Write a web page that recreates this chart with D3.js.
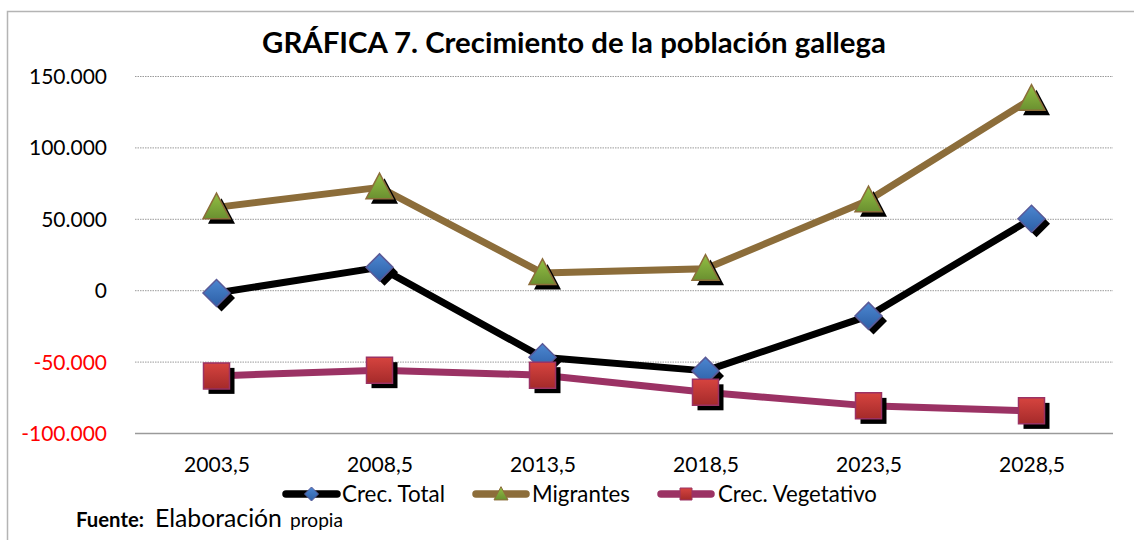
<!DOCTYPE html>
<html>
<head>
<meta charset="utf-8">
<script src="https://cdn.jsdelivr.net/npm/d3@7"></script>
<style>
  html, body { margin: 0; padding: 0; background: #fff; }
  svg { display: block; font-family: Lato, "Open Sans", sans-serif; }
</style>
</head>
<body>
<svg id="chart" width="1134" height="540"></svg>
<script>
const categories = ["2003,5", "2008,5", "2013,5", "2018,5", "2023,5", "2028,5"];
const crecTotal = [-2000, 16000, -47000, -56500, -18000, 50000];
const migrantes = [58000, 72000, 12000, 15000, 63000, 134000];
const crecVegetativo = [-60000, -56000, -59500, -71500, -81000, -84500];
const yTicks = [-100000, -50000, 0, 50000, 100000, 150000];
const seriesNames = ["Crec. Total", "Migrantes", "Crec. Vegetativo"];
const titleText = "GRÁFICA 7. Crecimiento de la población gallega";

const svg = d3.select("#chart");
const W = 1134, H = 540;
const plot = { left: 135, right: 1113, top: 76, bottom: 433 };

const loc = d3.formatLocale({ decimal: ",", thousands: ".", grouping: [3], currency: ["", ""], minus: "-" });
const fmt = loc.format(",.0f");

const x = d3.scalePoint().domain(categories).range([plot.left, plot.right]).padding(0.5);
const y = d3.scaleLinear().domain([-100000, 150000]).range([plot.bottom, plot.top]);

const defs = svg.append("defs");
function grad(id, c1, c2) {
  const g = defs.append("linearGradient").attr("id", id).attr("x1", 0).attr("y1", 0).attr("x2", 0).attr("y2", 1);
  g.append("stop").attr("offset", "0%").attr("stop-color", c1);
  g.append("stop").attr("offset", "100%").attr("stop-color", c2);
}
grad("gBlue", "#4c86d0", "#2c5fa6");
grad("gGreen", "#93bf44", "#6a9030");
grad("gRed", "#d6443f", "#a52a2a");

svg.append("rect").attr("x", 7.5).attr("y", 11.5).attr("width", W + 10).attr("height", H + 10)
  .attr("fill", "none").attr("stroke", "#b4b4b4").attr("stroke-width", 1.5);

function fit(sel, target) {
  const n = sel.node();
  const base = parseFloat(sel.attr("font-size"));
  const w = n.getComputedTextLength();
  sel.attr("font-size", (base * target / w).toFixed(2));
}

const title = svg.append("text").attr("x", 574).attr("y", 53).attr("text-anchor", "middle")
  .attr("font-size", 28).attr("font-weight", "bold").attr("fill", "#000").text(titleText);
fit(title, 624);

const yAxis = d3.axisLeft(y).tickValues(yTicks).tickSize(-(plot.right - plot.left)).tickFormat(fmt).tickPadding(28);
const ga = svg.append("g").attr("transform", `translate(${plot.left},0)`).call(yAxis);
ga.select(".domain").remove();
ga.selectAll(".tick line")
  .attr("stroke", "#9a9a9a")
  .attr("stroke-dasharray", d => d === -100000 ? null : "1.5,1")
  .attr("stroke-width", d => d === -100000 ? 1.5 : 1);
ga.selectAll(".tick text")
  .attr("font-family", "Lato, sans-serif")
  .attr("font-size", 21)
  .attr("fill", d => d < 0 ? "#ff0000" : "#000")
  .attr("dy", "0.36em");
fit(ga.selectAll(".tick text").filter(d => d === 150000), 78);
const ySize = ga.selectAll(".tick text").filter(d => d === 150000).attr("font-size");
ga.selectAll(".tick text").attr("font-size", ySize);

const xa = svg.append("g").attr("transform", `translate(0,${plot.bottom})`)
  .call(d3.axisBottom(x).tickSize(0).tickPadding(24));
xa.select(".domain").remove();
xa.selectAll(".tick text").attr("font-family", "Lato, sans-serif").attr("font-size", 21).attr("fill", "#000");
fit(xa.selectAll(".tick text").filter((d, i) => i === 0), 66);
const xSize = xa.selectAll(".tick text").filter((d, i) => i === 0).attr("font-size");
xa.selectAll(".tick text").attr("font-size", xSize).attr("dy", "0.71em");

const series = [
  { name: seriesNames[0], values: crecTotal, color: "#000000", marker: "diamond", fill: "url(#gBlue)", stroke: "#5a5a98" },
  { name: seriesNames[1], values: migrantes, color: "#8c6d3a", marker: "triangle", fill: "url(#gGreen)", stroke: "#8c6d3a" },
  { name: seriesNames[2], values: crecVegetativo, color: "#9b3264", marker: "square", fill: "url(#gRed)", stroke: "#9b3264" }
];

function markerPath(type, s) {
  if (type === "diamond") return `M0,${-s}L${s},0L0,${s}L${-s},0Z`;
  if (type === "square") return `M${-s},${-s}H${s}V${s}H${-s}Z`;
  return `M0,${-s * 1.05}L${s},${s * 0.85}L${-s},${s * 0.85}Z`;
}
const mSize = { diamond: 13.5, square: 13, triangle: 13.5 };

const line = d3.line().x((d, i) => x(categories[i])).y(d => y(d));

series.forEach(s => {
  svg.append("path").datum(s.values).attr("d", line)
    .attr("fill", "none").attr("stroke", s.color).attr("stroke-width", 7)
    .attr("stroke-linejoin", "round").attr("stroke-linecap", "butt");
});
series.forEach(s => {
  const g = svg.append("g");
  g.selectAll("path.shadow").data(s.values).join("path").attr("class", "shadow")
    .attr("transform", (d, i) => `translate(${x(categories[i]) + 5},${y(d) + 5})`)
    .attr("d", markerPath(s.marker, mSize[s.marker]))
    .attr("fill", "#000");
  g.selectAll("path.mk").data(s.values).join("path").attr("class", "mk")
    .attr("transform", (d, i) => `translate(${x(categories[i])},${y(d)})`)
    .attr("d", markerPath(s.marker, mSize[s.marker]))
    .attr("fill", s.fill).attr("stroke", s.stroke).attr("stroke-width", 1.5);
});

const legendPos = [
  { x1: 286, x2: 337, tx: 342, tw: 103 },
  { x1: 476, x2: 526, tx: 532, tw: 98 },
  { x1: 661, x2: 711, tx: 718, tw: 159 }
];
const legY = 494;
series.forEach((s, i) => {
  const p = legendPos[i];
  const lg = svg.append("g");
  lg.append("line").attr("x1", p.x1).attr("x2", p.x2).attr("y1", legY).attr("y2", legY)
    .attr("stroke", s.color).attr("stroke-width", 7.5).attr("stroke-linecap", "round");
  lg.append("path").attr("transform", `translate(${(p.x1 + p.x2) / 2},${legY})`)
    .attr("d", markerPath(s.marker, s.marker === "square" ? 6 : 7))
    .attr("fill", s.fill).attr("stroke", s.stroke).attr("stroke-width", 1);
  const t = lg.append("text").attr("x", p.tx).attr("y", 502).attr("font-size", 21).attr("fill", "#000").text(s.name);
  fit(t, p.tw);
});

const f1 = svg.append("text").attr("x", 76).attr("y", 527).attr("font-weight", "bold").attr("font-size", 18).attr("fill", "#000").text("Fuente:");
fit(f1, 68);
const f2 = svg.append("text").attr("x", 155).attr("y", 527).attr("font-size", 21).attr("fill", "#000").text("Elaboración");
fit(f2, 127);
const f3 = svg.append("text").attr("x", 290).attr("y", 527).attr("font-size", 16).attr("fill", "#000").text("propia");
fit(f3, 53);
</script>
</body>
</html>
